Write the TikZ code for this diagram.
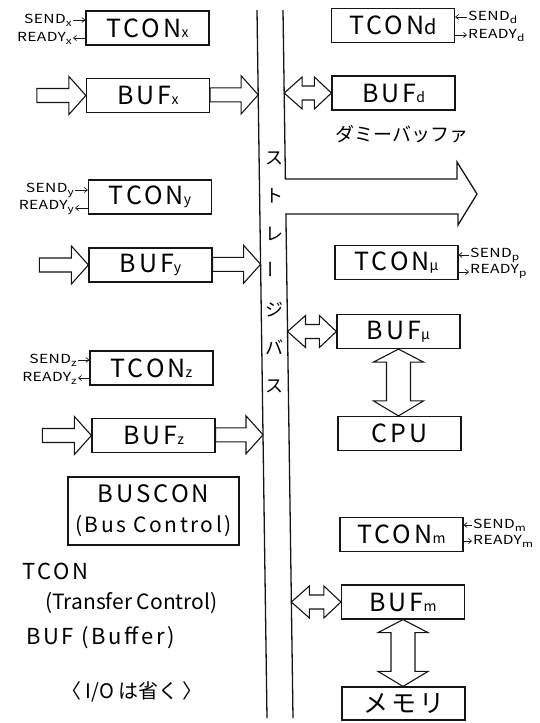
\documentclass[tikz,border=0pt]{standalone}
\usepackage{fontspec}
\setmainfont{Noto Sans CJK JP}
\newfontfamily\wide[LetterSpace=12]{Noto Sans CJK JP}
\newfontfamily\sigfont[FakeStretch=1.25,LetterSpace=3]{Noto Sans CJK JP}
\usepackage{tikz}
\usetikzlibrary{arrows.meta,positioning,calc}
\definecolor{ink}{HTML}{151515}

\newcommand{\lo}[1]{{\fontsize{14}{14}\selectfont #1}}
\newcommand{\sg}[1]{\raisebox{-3pt}{\fontsize{9.5}{9.5}\selectfont #1}}
\newcommand{\fatarrow}[2]{%
  \draw[fat] let \p1=#1, \p2=#2 in
    (\x1,\y2+7pt) -- (\x2-17pt,\y2+7pt) -- (\x2-17pt,\y2+19pt) -- (\x2,\y2)
    -- (\x2-17pt,\y2-19pt) -- (\x2-17pt,\y2-7pt) -- (\x1,\y2-7pt) -- cycle;}
\newcommand{\dfatarrow}[2]{%
  \draw[fat] let \p1=#1, \p2=#2 in
    (\x1,\y2) -- (\x1+18pt,\y2+16pt) -- (\x1+18pt,\y2+7pt) -- (\x2-17pt,\y2+7pt)
    -- (\x2-17pt,\y2+16pt) -- (\x2,\y2) -- (\x2-17pt,\y2-16pt) -- (\x2-17pt,\y2-7pt)
    -- (\x1+18pt,\y2-7pt) -- (\x1+18pt,\y2-16pt) -- cycle;}
\newcommand{\vfatarrow}[2]{%
  \draw[fat] let \p1=#1, \p2=#2 in
    (\x1,\y1) -- (\x1+25pt,\y1-13pt) -- (\x1+12pt,\y1-13pt) -- (\x1+12pt,\y2+15pt)
    -- (\x1+25pt,\y2+15pt) -- (\x1,\y2) -- (\x1-25pt,\y2+15pt) -- (\x1-12pt,\y2+15pt)
    -- (\x1-12pt,\y1-13pt) -- (\x1-25pt,\y1-13pt) -- cycle;}

\begin{document}
\begin{tikzpicture}[x=1pt,y=-1pt,
  unit/.style={draw=ink,line width=1.2pt,minimum width=123pt,minimum height=34pt,inner sep=0pt,font=\wide\fontsize{25}{25}\selectfont},
  fat/.style={draw=ink,line width=1.1pt,line join=miter,fill=white},
  bus/.style={draw=ink,line width=1.3pt},
  sig/.style={-{Straight Barb[length=3pt,width=5pt]},line width=0.7pt,draw=ink},
  sigl/.style={inner sep=1pt,font=\sigfont\fontsize{12.5}{12.5}\selectfont},
  note/.style={inner sep=0pt,align=left,font=\wide\fontsize{22}{22}\selectfont}
]
\useasboundingbox (0,0) rectangle (540,723);

\coordinate (busLt) at (257,10);
\coordinate (busLb) at (267,718);
\coordinate (busRt) at (283,10);
\coordinate (busRb) at (293,718);
\draw[bus] (busLt) -- (busLb);
\draw[bus] (busRt) -- (285.4,179) -- (457,179) -- (457,162) -- (477,194) -- (458,225) -- (458,214) -- (285.9,214) -- (busRb);
\node[inner sep=0pt,align=center,font=\fontsize{18}{38}\selectfont] (buslbl) at (274,272) {ス\\ト\\レ\\\rotatebox{90}{ー}\\ジ\\バ\\ス};

\node[unit] (tconx) at (147.5,28) {TCON\lo{x}};
\node[unit] (bufx) at (148,95.5) {BUF\lo{x}};
\node[unit] (tcony) at (150,197) {TCON\lo{y}};
\node[unit] (bufy) at (150.5,265) {BUF\lo{y}};
\node[unit] (tconz) at (151.5,368) {TCON\lo{z}};
\node[unit] (bufz) at (153.5,435.5) {BUF\lo{z}};
\node[unit,minimum width=171pt,minimum height=68pt,align=center,font=\wide\fontsize{24}{30}\selectfont] (buscon) at (153.5,511) {BUSCON\\{\fontsize{21}{21}\selectfont (Bus Control)}};

\node[unit] (tcond) at (393,25.5) {TCON{\fontsize{20}{20}\selectfont d}};
\node[unit] (bufd) at (393.5,93) {BUF\lo{d}};
\node[inner sep=0pt,font=\fontsize{19}{19}\selectfont] (dummy) at (402,134) {ダミーバッファ};
\node[unit] (tconp) at (396.5,262.5) {TCON\lo{μ}};
\node[unit] (bufp) at (398.5,331.5) {BUF\lo{μ}};
\node[unit] (cpu) at (399.5,433.5) {CPU};
\node[unit] (tconm) at (401.5,534.5) {TCON\lo{m}};
\node[unit] (bufm) at (403,602) {BUF\lo{m}};
\node[unit,minimum height=33pt] (mem) at (403.5,703.5) {メモリ};

\node[sigl,anchor=east] (sendx) at (73,20) {SEND\sg{x}};
\node[sigl,anchor=east] (readyx) at (73,38) {READY\sg{x}};
\node[sigl,anchor=east] (sendy) at (75,190) {SEND\sg{y}};
\node[sigl,anchor=east] (readyy) at (75,208) {READY\sg{y}};
\node[sigl,anchor=east] (sendz) at (78,360) {SEND\sg{z}};
\node[sigl,anchor=east] (readyz) at (78,378) {READY\sg{z}};
\node[sigl,anchor=west] (sendd) at (467,17) {SEND\sg{d}};
\node[sigl,anchor=west] (readyd) at (467,35) {READY\sg{d}};
\node[sigl,anchor=west] (sendp) at (469,255) {SEND\sg{p}};
\node[sigl,anchor=west] (readyp) at (469,272) {READY\sg{p}};
\node[sigl,anchor=west] (sendm) at (472,525) {SEND\sg{m}};
\node[sigl,anchor=west] (readym) at (472,541) {READY\sg{m}};

\foreach \s in {x,y,z} {
  \draw[sig] (send\s.east) -- (send\s.east -| tcon\s.west);
  \draw[sig] (ready\s.east -| tcon\s.west) -- (ready\s.east);
}
\foreach \s in {d,p,m} {
  \draw[sig] (send\s.west) -- (send\s.west -| tcon\s.east);
  \draw[sig] (ready\s.west -| tcon\s.east) -- (ready\s.west);
}

\foreach \s in {x,y,z} {
  \coordinate (in\s) at ([xshift=-49pt]buf\s.west);
  \coordinate (out\s) at ($(busLt)!(buf\s.east)!(busLb)$);
  \fatarrow{(in\s)}{(buf\s.west)}
  \fatarrow{(buf\s.east)}{(out\s)}
}
\foreach \s in {d,p,m} {
  \coordinate (tap\s) at ($(busRt)!(buf\s.west)!(busRb)$);
  \dfatarrow{(tap\s)}{(buf\s.west)}
}
\vfatarrow{(bufp.south)}{(cpu.north)}
\vfatarrow{(bufm.south)}{(mem.north)}

\node[note,anchor=west] (tconnote) at (22,571) {TCON};
\node[note,anchor=west,font=\fontsize{21}{21}\selectfont] (tconfull) at (45,603) {(Transfer Control)};
\node[note,anchor=west] (bufnote) at (26,638) {BUF (Buffer)};
\node[inner sep=0pt,font=\fontsize{20}{20}\selectfont] (ionote) at (132,692) {〈 I/O は省く 〉};
\end{tikzpicture}
\end{document}
